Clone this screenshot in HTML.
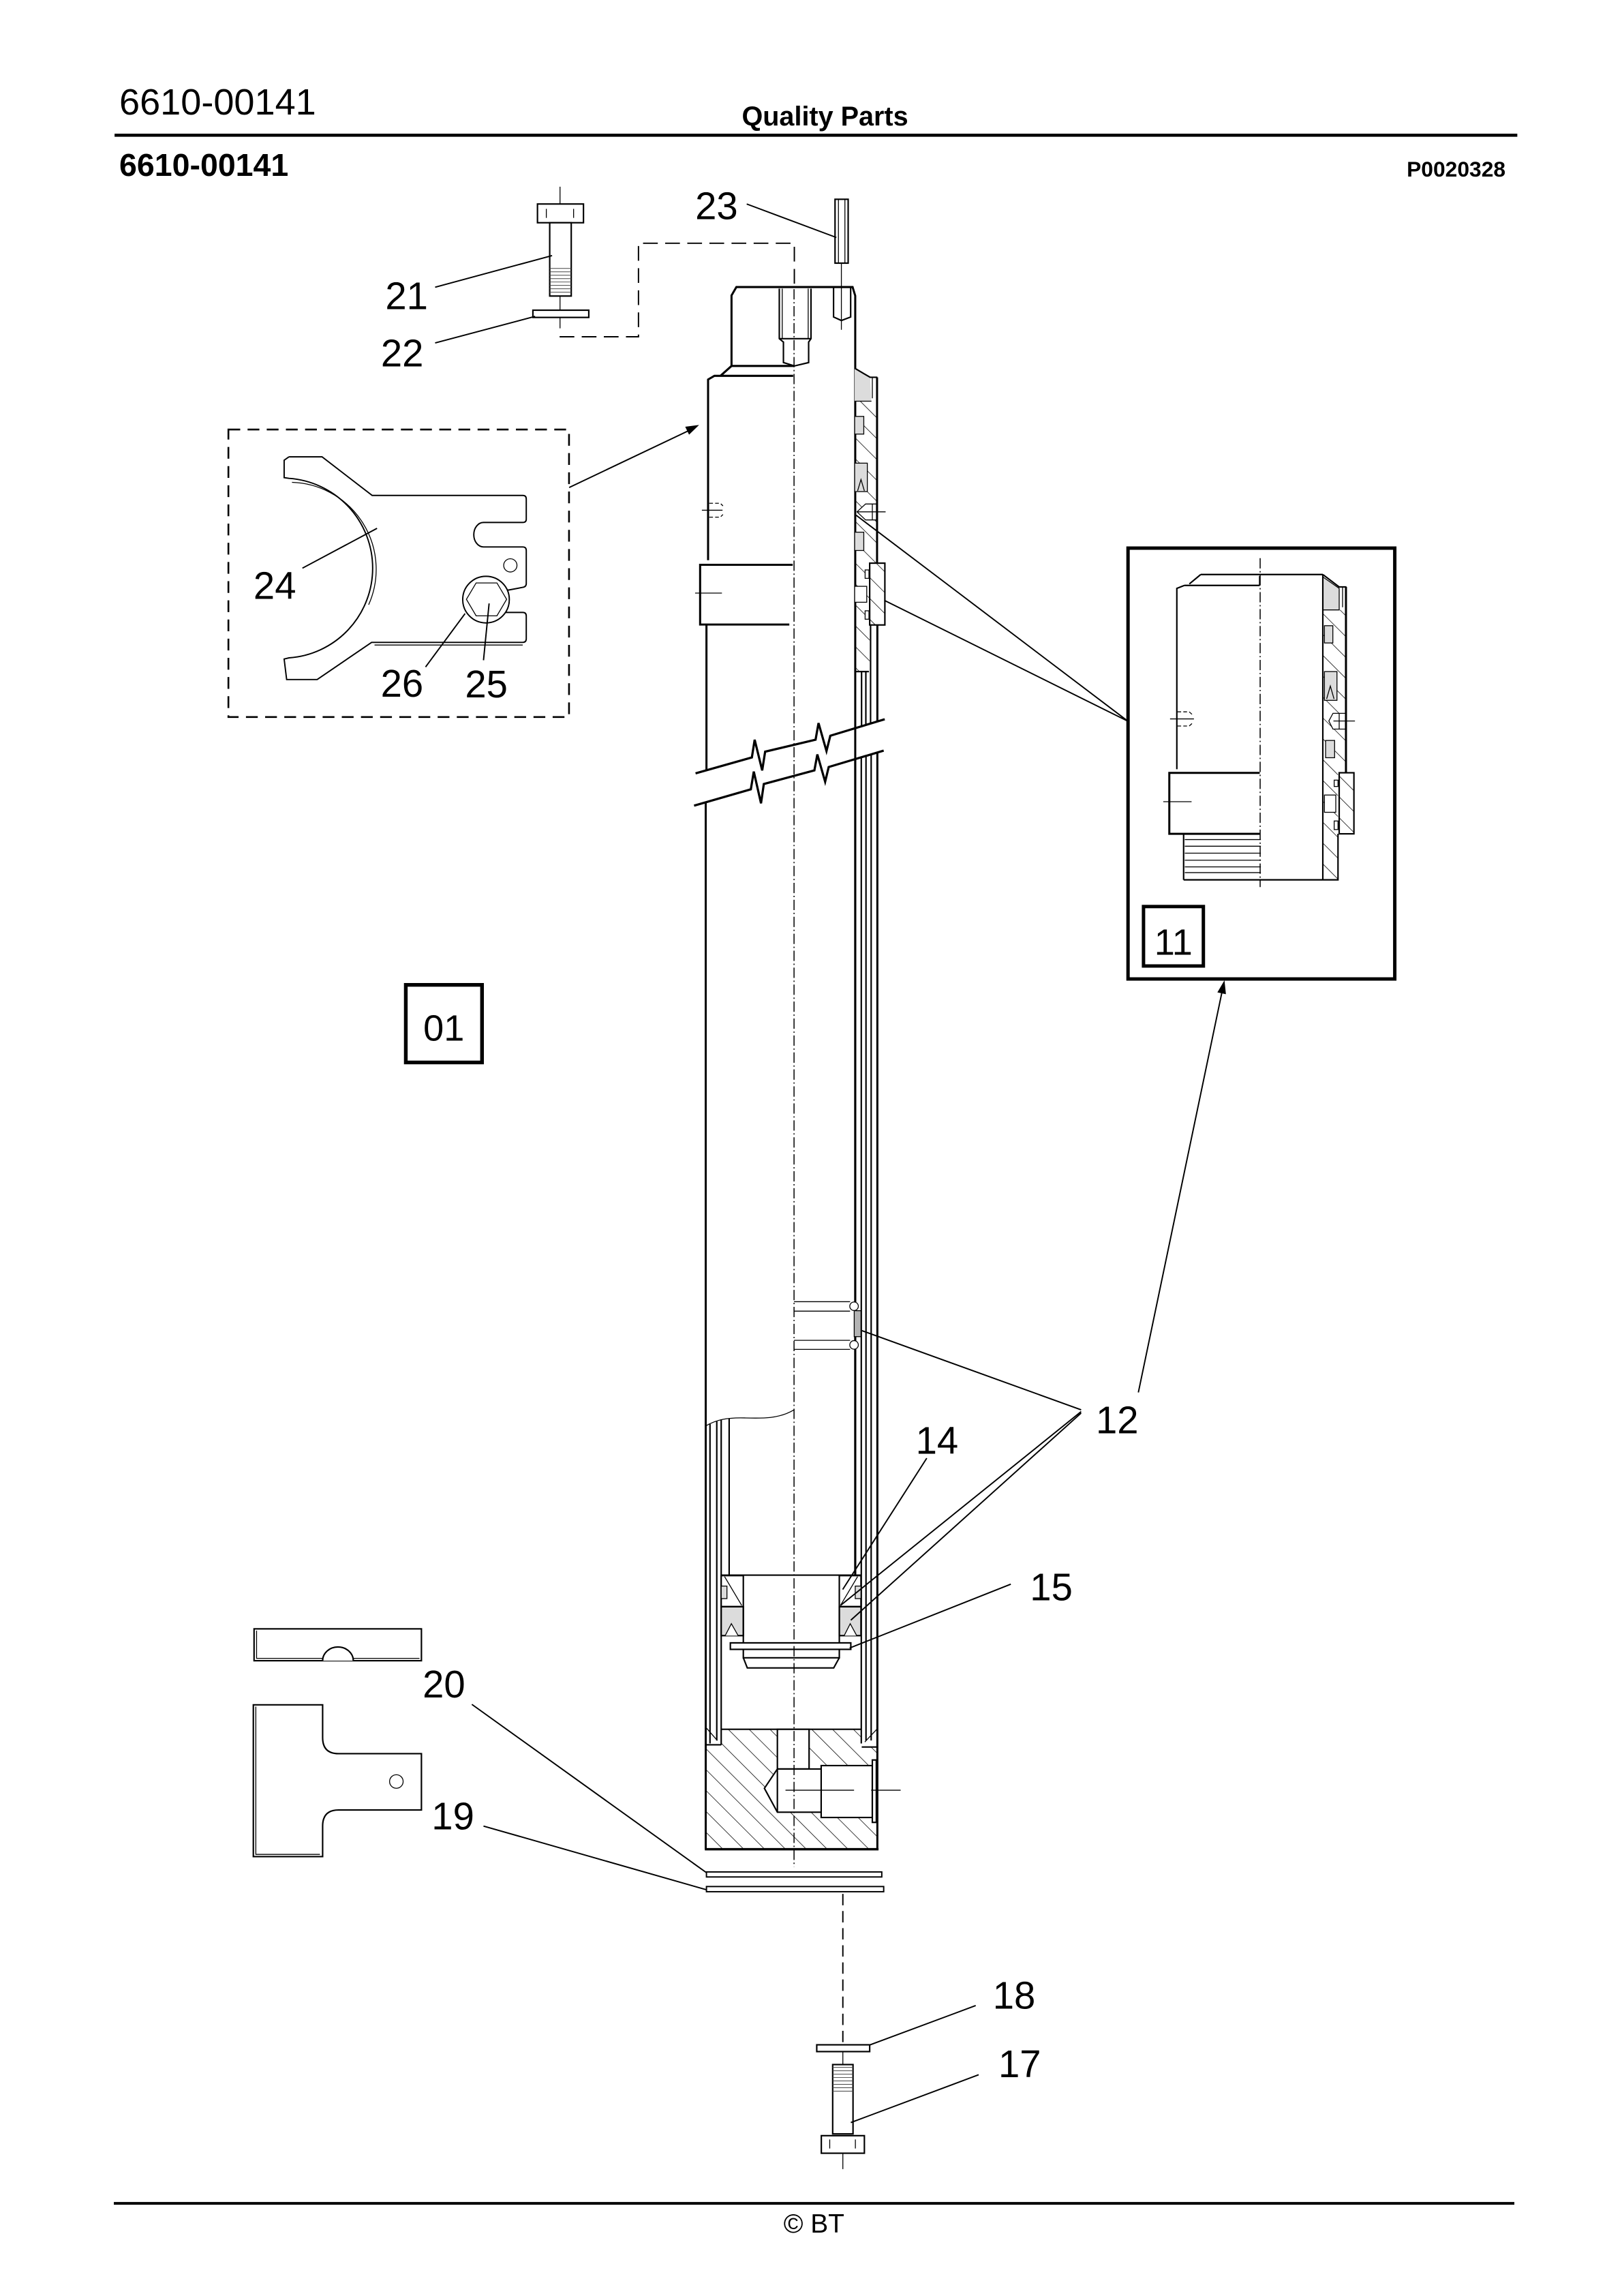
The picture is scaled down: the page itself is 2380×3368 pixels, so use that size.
<!DOCTYPE html>
<html><head><meta charset="utf-8">
<style>
html,body{margin:0;padding:0;background:#fff;}
svg{display:block}
text{font-family:"Liberation Sans",Arial,sans-serif;fill:#000;stroke:none}
.k{stroke-width:1.4}
.m{stroke-width:1}
.t{stroke-width:0.6}
.l{stroke-width:0.9}
.c{stroke-width:0.7;stroke-dasharray:7 1.8 0.9 1.8}
</style></head><body>
<svg width="2380" height="3368" viewBox="0 0 1100 1556.6" preserveAspectRatio="none" xmlns="http://www.w3.org/2000/svg">
<defs>
<pattern id="h" width="10" height="10" patternUnits="userSpaceOnUse" patternTransform="rotate(-45)">
<line x1="0" y1="-1" x2="0" y2="11" stroke="#000" stroke-width="0.7"/>
</pattern>
</defs>
<rect x="0" y="0" width="1100" height="1556.6" fill="#fff"/>

<!-- Header -->
<text x="80.9" y="77.6" font-size="25">6610-00141</text>
<text x="559.5" y="85" font-size="18.3" font-weight="bold" text-anchor="middle">Quality Parts</text>
<line x1="77.7" y1="91.7" x2="1029" y2="91.7" stroke="#000" stroke-width="2.1"/>
<text x="80.9" y="119.2" font-size="21.5" font-weight="bold">6610-00141</text>
<text x="1021" y="119.7" font-size="14.7" font-weight="bold" text-anchor="end">P0020328</text>

<!-- Footer -->
<line x1="77.2" y1="1493.8" x2="1027" y2="1493.8" stroke="#000" stroke-width="1.9"/>
<text x="552" y="1513.7" font-size="18" text-anchor="middle">© BT</text>

<g fill="none" stroke="#000">

<!-- ===== Top bolt 21 / washer 22 ===== -->
<path class="t" d="M379.8,126.6V138.3M379.8,200.7V210.3M379.8,215.2V222.6"/>
<rect class="m" x="364.5" y="138.3" width="31.2" height="12.7" fill="#fff"/>
<path class="t" d="M370.5,141.6V147.7M389,141.6V147.7"/>
<rect class="m" x="372.8" y="151" width="14.6" height="49.7" fill="#fff"/>
<path stroke-width="0.45" stroke="#444" d="M372.8,182H387.4M372.8,184.3H387.4M372.8,186.6H387.4M372.8,188.9H387.4M372.8,191.2H387.4M372.8,193.5H387.4M372.8,195.8H387.4M372.8,198.1H387.4"/>
<rect class="m" x="361.4" y="210.3" width="37.9" height="4.9" fill="#fff"/>
<path class="l" d="M379.5,228.3H433V164.9H538.7V196" stroke-dasharray="10 5"/>
<path class="l" d="M295.1,194.7L374.4,173.3M295.1,232.5L362.9,214.5"/>
<text x="261.3" y="209.6" font-size="26">21</text>
<text x="258.3" y="248.4" font-size="26">22</text>

<!-- ===== Pin 23 ===== -->
<rect class="m" x="566.3" y="135.1" width="8.9" height="43.3" fill="#fff"/>
<path class="t" d="M568.6,135.1V178.4M573,135.1V178.4M570.6,178.4V223.6"/>
<path class="l" d="M506.4,138.3L567.2,161"/>
<text x="471.5" y="148.7" font-size="26">23</text>

<!-- ===== Cylinder head (top) ===== -->
<path class="k" d="M496.1,248.1V200.3L499.4,194.6H578.2L580,200.5V1068"/>
<path class="k" d="M496.1,248.1H538.3"/>
<path class="m" d="M528.5,195.7V229.6L531.3,231.9V245.8L538.8,248.1L548.4,245.8V231.9L550,229.6V195.7M528.5,229.6H550"/>
<path class="t" d="M530.5,195.7V229.6M548.1,195.7V229.6"/>
<path class="m" d="M565.3,194.6V214.9L570.6,217.3L576.9,214.9V194.6"/>
<path class="k" d="M480.2,379.8V257.3L484.5,254.8H537.9M496.1,248.1L488.6,254.8"/>
<!-- screw symbol left -->
<path class="t" d="M476,345.9H490"/>
<path class="t" stroke-dasharray="2.5 1.5" d="M481,341.2H488.5L490.3,343M481,350.6H488.5L490.3,348.8"/>
<!-- band -->
<path class="k" d="M537.6,382.9H474.8V423.4H535.3"/>
<path class="t" d="M471.4,402.1H489.6"/>
<path class="k" d="M479.1,423.4V522.2"/>

<!-- right section, upper -->
<polygon points="579.6,249.6 590.1,255.8 590.9,272 579.6,272" fill="#dcdcdc" stroke="none"/>
<polygon points="579.6,272 594.7,272 594.7,381.8 589.8,381.8 589.8,455.3 579.6,455.3" fill="url(#h)" stroke="none"/>
<rect class="t" x="579.6" y="282.3" width="6.2" height="12" fill="#dcdcdc"/>
<rect class="t" x="579.6" y="314" width="8.6" height="19.3" fill="#dcdcdc"/>
<path class="t" d="M581.6,332.8L583.9,325.1L586.2,332.8"/>
<rect class="t" x="579.6" y="360.8" width="6.2" height="12.4" fill="#dcdcdc"/>
<path class="t" d="M581.2,347L587,341.7H594.4V352.5H587Z" fill="#fff"/>
<path class="t" d="M581.1,347H600.6M591.6,341.7V352.5"/>
<rect class="t" x="579.6" y="397.5" width="8.2" height="10.8" fill="#fff"/>
<rect class="t" x="586.7" y="386.4" width="2.6" height="5.7" fill="#fff"/>
<rect class="t" x="586.7" y="414.1" width="2.6" height="5.7" fill="#fff"/>
<rect x="589.8" y="381.8" width="10.3" height="41.9" fill="#fff" stroke="none"/>
<rect class="m" x="589.8" y="381.8" width="10.3" height="41.9" fill="url(#h)"/>
<path class="m" d="M579.6,249.6L590.1,255.8H595"/>
<path class="k" d="M594.8,255.8V381.8"/>
<path class="t" d="M591.6,255.8V270M579.6,272H591"/>
<path class="m" d="M579.6,455.3H589.3"/>
<path class="m" d="M590.4,423.7V490.3"/>
<path class="k" d="M595,423.7V489"/>
<path class="m" d="M584.3,455.3V492.3M587.2,455.3V491.4"/>
<!-- leaders to inset 11 -->
<path class="l" d="M580.6,349.3L765,489M599.7,407L765,489"/>

<!-- break lines -->
<path stroke-width="1.5" stroke-linejoin="miter" d="M471.7,524.3L509.9,513.5L511.8,501.5L516.9,522.3L518.9,509.6L553.1,501.5L555.1,490.2L560.5,509.2L563.1,498.8L600,487.6"/>
<path stroke-width="1.5" stroke-linejoin="miter" d="M470.7,546.2L509.2,535.1L511.2,523.1L516.1,544.6L518,531.5L552.3,522.3L554.3,511.5L559.6,530L562,520L599.3,508.9"/>

<!-- lower body -->
<path class="k" d="M478.6,544V1253.7"/>
<path class="k" d="M580,514.6V1068"/>
<path class="m" d="M584.1,513.4V1182M587.3,512.4V1180M590.8,511.4V1180"/>
<path class="k" d="M595,510.2V1253.7"/>
<!-- rings & guide band -->
<path class="t" d="M538.5,882.5H576.5M538.5,888.9H576.5M538.5,908.7H576.5M538.5,914.8H576.5"/>
<rect class="t" x="579.3" y="888.6" width="4.6" height="17.6" fill="#b3b3b3"/>
<circle class="t" cx="579.2" cy="885.6" r="2.9" fill="#fff"/>
<circle class="t" cx="579.2" cy="911.8" r="2.9" fill="#fff"/>
<!-- wave break of inner tube -->
<path class="t" d="M478.6,966.7C486,962.5 493,961 505,961.3S528,962 538.3,955.9"/>
<path class="m" d="M481.5,965.5V1182M486.1,963.6V1180M489.1,962.3V1183M494.5,961.6V1068"/>
<!-- piston -->
<path class="m" d="M489.1,1067.9H583.9"/>
<rect class="m" x="489.1" y="1068.2" width="15" height="21" fill="#fff"/>
<rect class="t" x="489.1" y="1075.3" width="3.9" height="8.5" fill="#dcdcdc"/>
<path class="t" d="M491.4,1068.9L503,1088.4"/>
<rect class="m" x="569.2" y="1068.2" width="14.7" height="21" fill="#fff"/>
<rect class="t" x="580" y="1075.3" width="3.9" height="8.5" fill="#dcdcdc"/>
<path class="t" d="M581.6,1068.9L570,1088.4"/>
<rect class="m" x="489.1" y="1089.3" width="15" height="19.6" fill="#dcdcdc"/>
<path class="t" d="M491.8,1108.9L496,1100.8L500.6,1108.9" fill="#fff"/>
<rect class="m" x="569.2" y="1089.3" width="14.7" height="19.6" fill="#dcdcdc"/>
<path class="t" d="M572.5,1108.9L576.6,1100.8L581,1108.9" fill="#fff"/>
<path class="m" d="M504.1,1089.3V1123.9H569.2V1089.3"/>
<path class="m" d="M504.1,1123.9L506.8,1130.8H565.4L569.2,1123.9"/>
<rect class="m" x="495.3" y="1113.8" width="81.7" height="4.4" fill="#fff"/>

<!-- bottom block -->
<polygon points="489.1,1172.4 583.9,1172.4 583.9,1184.4 595,1184.4 595,1253.7 478.6,1253.7 478.6,1182.9 489.1,1182.9" fill="url(#h)" stroke="none"/>
<path class="m" d="M489.1,1172.4H583.9M478.6,1182.9H489.1M584.4,1184.4H595"/>
<path class="t" d="M478.6,1171L486.5,1180M595,1172L586.5,1181"/>
<rect class="m" x="527.2" y="1172.4" width="21.5" height="26.9" fill="#fff"/>
<path class="m" d="M527.2,1199.3H556.9V1197H591.6V1232.2H556.9V1228.6H527.2L518.4,1212.4Z" fill="#fff"/>
<path class="m" d="M527.2,1199.3V1228.6M556.9,1199.3V1228.6"/>
<rect class="m" x="591.6" y="1193.2" width="2.7" height="42.3" fill="#fff"/>
<path class="t" d="M532.7,1213.7H579.2M590.8,1213.7H610.8"/>
<path stroke-width="1.6" d="M478,1253.7H595.8"/>

<!-- centerline -->
<path class="c" d="M538.5,196V1265.6"/>

<!-- shims under block -->
<rect class="l" x="479.1" y="1269.1" width="118.9" height="3.4" fill="#fff"/>
<rect class="l" x="479.1" y="1279" width="120.2" height="3.5" fill="#fff"/>
<path class="l" d="M320,1155.5L479.1,1269.6M327.9,1238L479.1,1281.2"/>

<!-- bottom bolt axis -->
<path class="l" d="M571.6,1284V1385.8" stroke-dasharray="7.7 3.9"/>
<rect class="m" x="553.9" y="1386.3" width="35.9" height="4.6" fill="#fff"/>
<path class="t" d="M571.6,1390.9V1399.7M571.6,1459.8V1470.6"/>
<rect class="m" x="564.7" y="1399.7" width="13.8" height="47" fill="#fff"/>
<path stroke-width="0.45" stroke="#444" d="M564.7,1401.6H578.5M564.7,1403.9H578.5M564.7,1406.2H578.5M564.7,1408.5H578.5M564.7,1410.8H578.5M564.7,1413.1H578.5M564.7,1415.4H578.5M564.7,1417.7H578.5"/>
<rect class="m" x="557" y="1447.9" width="29.2" height="11.9" fill="#fff"/>
<path class="t" d="M562.7,1450.5V1456.6M580.1,1450.5V1456.6"/>
<path class="l" d="M589.3,1386.6L661.7,1359.7M577,1439L663.7,1406.6"/>
<text x="673.3" y="1361.7" font-size="26">18</text>
<text x="677.1" y="1408.2" font-size="26">17</text>

<!-- ===== left shims 20 / 19 ===== -->
<rect class="m" x="172.3" y="1104.3" width="113.5" height="21.6" fill="#fff"/>
<path class="t" d="M174,1105.5V1124.3H218.8M239.6,1124.3H284.5"/>
<path class="m" d="M218.8,1125.9A10.4,9.3 0 0 1 239.6,1125.9" fill="#fff"/>
<path class="m" d="M171.8,1155.8H218.8V1178Q218.8,1188.9 229.6,1188.9H285.8V1227.1H229.6Q218.8,1227.1 218.8,1238V1258.7H171.8Z" fill="#fff"/>
<path class="t" d="M173.5,1157V1257.2H217"/>
<circle class="t" cx="268.8" cy="1207.8" r="4.6"/>
<text x="286.6" y="1150.8" font-size="26">20</text>
<text x="292.7" y="1240.2" font-size="26">19</text>

<!-- ===== labels 12 14 15 ===== -->
<path class="l" d="M733.2,955.8L584.2,902M733.2,957L570,1088.4M733.2,958L577,1098.4"/>
<path class="l" d="M628.5,988.6L571.5,1077.6"/>
<path class="l" d="M685.5,1074L576.2,1117.3"/>
<text x="743.2" y="971.7" font-size="26">12</text>
<text x="621" y="985.6" font-size="26">14</text>
<text x="698.5" y="1085" font-size="26">15</text>
<!-- arrow 12 -> 11 -->
<path class="l" d="M772,944L829.5,668.8"/>
<polygon points="830.4,664.6 831.4,674 825.6,672.8" fill="#000" stroke="none"/>

<!-- ===== dashed box with fork 24/25/26 ===== -->
<rect x="154.9" y="291.2" width="231" height="194.9" stroke-width="1.2" stroke-dasharray="8 5"/>
<path class="l" d="M386,330.5L467,292"/>
<polygon points="474.1,288.1 467.3,294.7 464.7,289.3" fill="#000" stroke="none"/>
<path class="l" fill="#fff" d="M196,309.7H218.4L252.4,335.9H354.5Q356.9,335.9 356.9,338.3V352Q356.9,354.2 354.5,354.2H327.9A6.6,8.3 0 0 0 327.9,370.8H354.5Q356.9,370.8 356.9,373.2V395.6Q356.9,397.8 354.5,398.2L345,400H343.5L342.8,415.2H354.5Q356.9,415.2 356.9,417.6V433Q356.9,435.5 354.5,435.5H252L215.1,460.7H194.4L192.7,446.8L196,446A61,61 0 0 0 196,324.3L192.7,323.8V312L196,309.7"/>
<path class="t" d="M198,327A59,59 0 0 1 250,410M254,437.3H354.5"/>
<circle class="t" cx="346.1" cy="383.3" r="4.5"/>
<circle class="l" cx="329.6" cy="406.5" r="15.8" fill="#fff"/>
<polygon class="t" points="322.9,395.2 337,395.2 343.6,406.3 337,417.5 322.9,417.5 316.3,406.3"/>
<path class="l" d="M205.1,385.2L255.7,358.2M288.6,452.2L315.4,416M327.9,447.6L331.7,409.1"/>
<text x="171.9" y="406" font-size="26">24</text>
<text x="258.2" y="472.4" font-size="26">26</text>
<text x="315.4" y="472.8" font-size="26">25</text>

<!-- ===== box 01 ===== -->
<rect x="275.2" y="667.7" width="51.7" height="52.6" stroke-width="2.5"/>
<text x="301" y="705.4" font-size="25" text-anchor="middle">01</text>

<!-- ===== inset box 11 ===== -->
<rect x="765" y="371.6" width="180.9" height="292.1" stroke-width="2.3"/>
<polygon points="897.1,413.5 912.8,413.5 912.8,523.9 907.4,523.9 907.4,596.5 897.1,596.5" fill="url(#h)" stroke="none"/>
<polygon class="t" points="897.1,391.1 908.2,398.9 908.2,413.5 897.1,413.5" fill="#dcdcdc"/>
<rect class="t" x="898.2" y="424.2" width="5.7" height="11.7" fill="#dcdcdc"/>
<rect class="t" x="898.2" y="455.3" width="8.5" height="19.5" fill="#dcdcdc"/>
<path class="t" d="M899.7,473.8L902.2,465.1L904.7,473.8"/>
<rect class="t" x="899" y="502" width="6.1" height="11.7" fill="#dcdcdc"/>
<path class="t" d="M901.2,488.8L904,483.6H912.8V494.3H904Z" fill="#fff"/>
<path class="t" d="M904.3,488.8H918.9M908.2,483.6V494.3"/>
<rect x="908.2" y="523.9" width="10" height="41.4" fill="#fff" stroke="none"/>
<rect class="m" x="908.2" y="523.9" width="10" height="41.4" fill="url(#h)"/>
<rect class="t" x="904.8" y="528.9" width="2.6" height="4.3" fill="#fff"/>
<rect class="t" x="904.8" y="556.6" width="2.6" height="5.8" fill="#fff"/>
<rect class="t" x="898.2" y="539" width="7.7" height="11.7" fill="#fff"/>
<path class="m" d="M814.3,389.5H897.1M814.3,389.5L806.6,395.9M803.2,396.9H854.3M854.3,390.5V396.9M803.2,396.9L798.1,398.9V521.5"/>
<path class="m" d="M897.1,389.5V596.5M897.1,389.5L908.2,397.9H913.1"/>
<path class="k" d="M912.8,397.9V523.9"/>
<path class="t" d="M910.5,397.9V411.7"/>
<path class="m" d="M907.4,565.3V596.5M802.7,596.5H907.9"/>
<path class="k" d="M854.3,524H793V565.3H854.3"/>
<path class="t" d="M788.9,543.5H808.1"/>
<path class="m" d="M802.7,565.3V596.5"/>
<path class="t" d="M803.5,569.2H855.1M803.5,573.7H855.1M803.5,578.4H855.1M803.5,583.2H855.1M803.5,587.7H855.1M803.5,591.6H855.1"/>
<path class="t" d="M793.5,487.4H809.7"/>
<path class="t" stroke-dasharray="2.5 1.5" d="M798.5,482.6H806.5L808.4,484.3M798.5,492.2H806.5L808.4,490.5"/>
<path class="c" d="M854.6,378.4V601.4"/>
<rect x="775.5" y="614.6" width="40.6" height="40.3" stroke-width="2.3"/>
<text x="795.8" y="647.2" font-size="25" text-anchor="middle">11</text>

</g>
</svg>
</body></html>
